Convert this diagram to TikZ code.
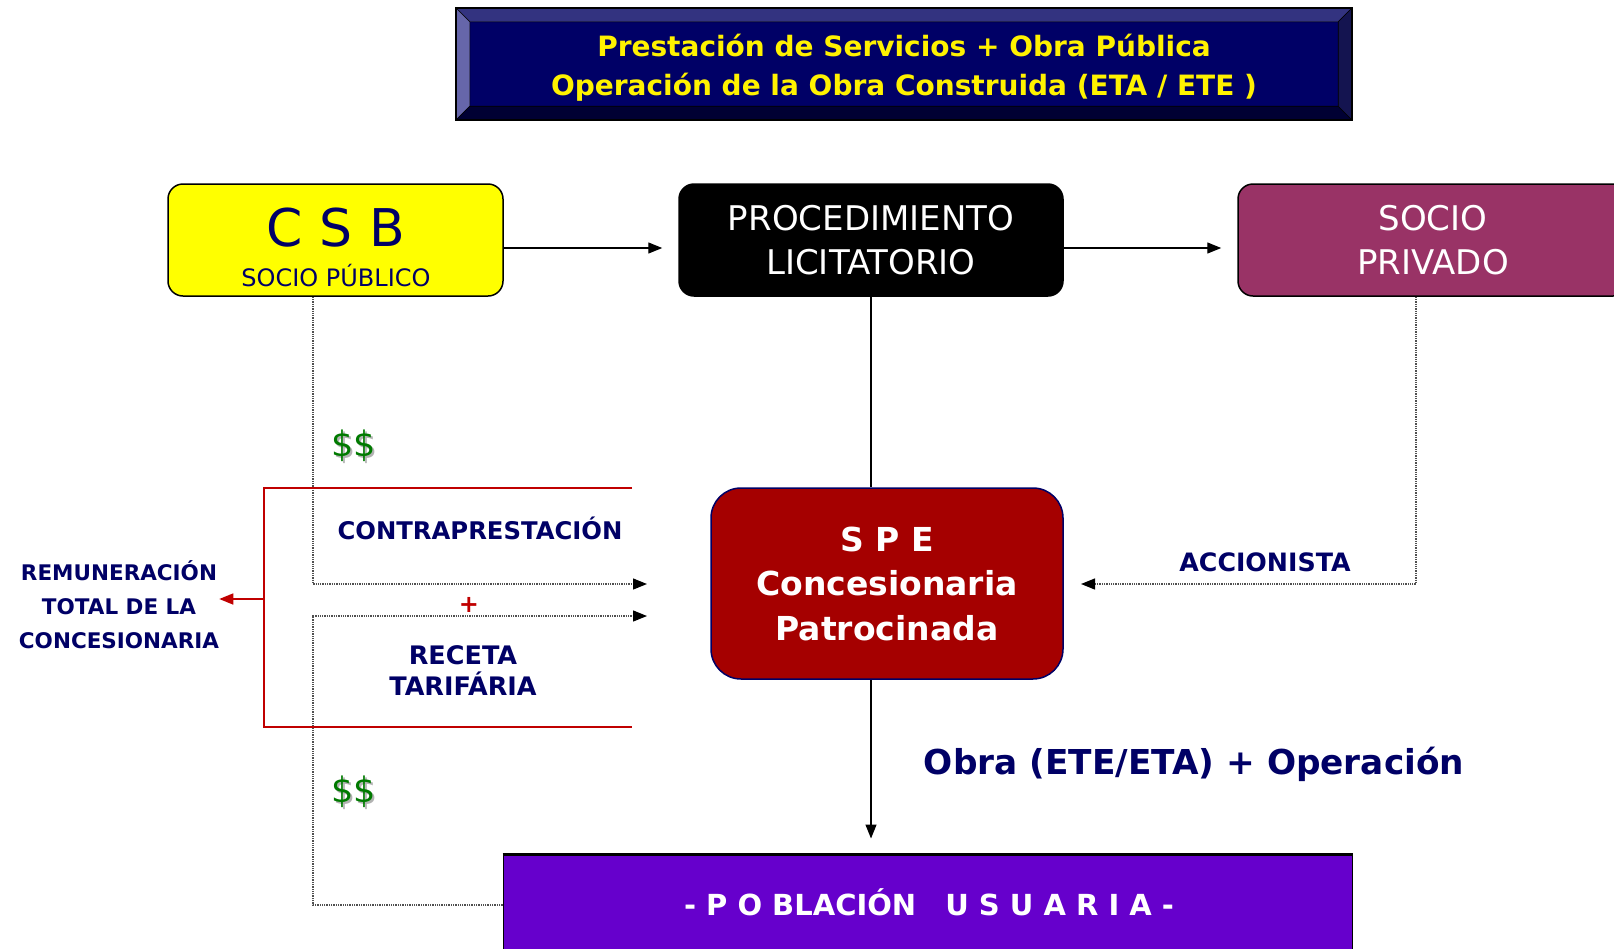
\documentclass[tikz,border=0pt]{standalone}
\usepackage{fontspec}
\setmainfont{DejaVu Sans}
\usetikzlibrary{arrows.meta,calc}
\definecolor{navy}{RGB}{0,0,102}
\definecolor{csbyellow}{RGB}{255,255,0}
\definecolor{sociocol}{RGB}{153,51,102}
\definecolor{spered}{RGB}{165,0,0}
\definecolor{pobcol}{RGB}{102,0,204}
\definecolor{redc}{RGB}{192,0,0}
\definecolor{dgreen}{RGB}{0,122,0}
\definecolor{ttlfill}{RGB}{0,0,102}
\definecolor{bvtop}{RGB}{51,51,128}
\definecolor{bvleft}{RGB}{102,102,170}
\definecolor{bvbottom}{RGB}{0,0,51}
\definecolor{bvright}{RGB}{20,20,80}
\definecolor{dotgray}{RGB}{80,80,80}
\begin{document}
\begin{tikzpicture}[x=1pt,y=-1pt,
  box/.style={draw=black, line width=1.5pt, rounded corners=15pt, inner sep=0pt, align=center},
  conn/.style={line width=1.3pt, -{Triangle[length=14pt,width=11pt]}},
  dotc/.style={densely dotted, line width=1.3pt, draw=dotgray, -{Triangle[length=14pt,width=11pt,color=black]}},
  redline/.style={line width=1.5pt, draw=redc},
  lbl/.style={text=navy, inner sep=0pt, align=center},
  bevel/.style={draw=black, line width=0.6pt}
]
\useasboundingbox (0,0) rectangle (1614,948);

% Title
\node[fill=ttlfill, minimum width=868pt, minimum height=84pt, inner sep=0pt] (titlebox) at (904,64) {};
\coordinate (tNW) at ($(titlebox.north west)+(-14,-14)$);
\coordinate (tNE) at ($(titlebox.north east)+(14,-14)$);
\coordinate (tSW) at ($(titlebox.south west)+(-14,14)$);
\coordinate (tSE) at ($(titlebox.south east)+(14,14)$);
\fill[bvtop, bevel] (titlebox.north west) -- (tNW) -- (tNE) -- (titlebox.north east) -- cycle;
\fill[bvleft, bevel] (titlebox.north west) -- (tNW) -- (tSW) -- (titlebox.south west) -- cycle;
\fill[bvbottom, bevel] (titlebox.south west) -- (tSW) -- (tSE) -- (titlebox.south east) -- cycle;
\fill[bvright, bevel] (titlebox.north east) -- (tNE) -- (tSE) -- (titlebox.south east) -- cycle;
\draw[line width=1.5pt] (tNW) rectangle (tSE);
\node[inner sep=0pt, align=center, text=yellow, font=\bfseries\fontsize{28}{39}\selectfont] (title) at (904,68)
  {Prestación de Servicios + Obra Pública\\Operación de la Obra Construida (ETA / ETE )};

% Top row
\node[box, fill=csbyellow, minimum width=335pt, minimum height=112pt] (csb) at (335.5,240) {};
\node[lbl, anchor=base, font=\fontsize{52}{52}\selectfont] (csbT) at (336,246) {C S B};
\node[lbl, anchor=base, font=\fontsize{24}{24}\selectfont] (csbS) at (336,286) {SOCIO PÚBLICO};

\node[box, fill=black, text=white, minimum width=384pt, minimum height=112pt,
      font=\fontsize{34}{44}\selectfont] (proc) at (871,240) {PROCEDIMIENTO\\LICITATORIO};
\node[box, fill=sociocol, text=white, minimum width=390pt, minimum height=112pt,
      font=\fontsize{34}{44}\selectfont] (socio) at (1433,240) {SOCIO\\PRIVADO};

% SPE
\node[box, draw=navy, fill=spered, rounded corners=30pt, minimum width=352pt, minimum height=191pt,
      text=white, font=\bfseries\fontsize{33}{44.5}\selectfont] (spe) at (887,583.5)
  {S P E\\Concesionaria\\Patrocinada};

% Poblacion
\node[fill=pobcol, draw=black, line width=1pt, minimum width=849pt, minimum height=100pt] (pob) at (927.5,905) {};
\node[inner sep=0pt, anchor=base, text=white, font=\bfseries\fontsize{29}{29}\selectfont] (pobT) at (929,915)
  {- P O BLACIÓN\quad U S U A R I A -};
\draw[line width=3.5pt] (pob.north west) -- (pob.north east);

% solid connectors
\draw[conn, shorten >=16pt] ([yshift=-8pt]csb.east) -- ([yshift=-8pt]proc.west);
\draw[conn, shorten >=16pt] ([yshift=-8pt]proc.east) -- ([yshift=-8pt]socio.west);
\draw[line width=1.3pt] (proc.south) -- (proc.south |- spe.north);
\draw[conn, shorten >=16pt] (proc.south |- spe.south) -- (proc.south |- pob.north);

% dotted connectors
\coordinate (dx) at (313,0);
\coordinate (e1) at (647,584);
\coordinate (e2) at (647,616);
\coordinate (ax) at (1416,0);
\coordinate (e3) at (1081,584);
\draw[dotc] (dx |- csb.south) |- (e1);
\draw[dotc] (pob.west) -| (dx |- e2) -- (e2);
\draw[dotc] (ax |- socio.south) |- (e3);

% red bracket
\draw[redline] (632,488) -- (264,488) -- (264,727) -- (632,727);

% labels
\node[lbl, font=\bfseries\fontsize{21.5}{34}\selectfont] (remun) at (119,604.5)
  {REMUNERACIÓN\\TOTAL DE LA\\CONCESIONARIA};
\draw[redline, -{Triangle[length=14pt,width=11pt]}] (264,599) -- (remun.east |- 0,599);

\node[lbl, anchor=base, font=\bfseries\fontsize{24.3}{24.3}\selectfont] (contra) at (480,539) {CONTRAPRESTACIÓN};
\node[lbl, font=\bfseries\fontsize{25.5}{31}\selectfont] (receta) at (463,671) {RECETA\\TARIFÁRIA};
\node[text=redc, inner sep=0pt, font=\bfseries\fontsize{24}{24}\selectfont] (plus) at (469,605) {+};
\node[lbl, anchor=base, font=\bfseries\fontsize{25.3}{25}\selectfont] (accion) at (1265,571) {ACCIONISTA};
\node[lbl, anchor=base, font=\bfseries\fontsize{34.3}{34}\selectfont] (obra) at (1194,774) {Obra (ETE/ETA) + Operación};

\node[text=gray!60, inner sep=0pt, font=\fontsize{35}{35}\selectfont] at (356,448) {\$\$};
\node[text=dgreen, inner sep=0pt, font=\fontsize{35}{35}\selectfont] (d1) at (354,446) {\$\$};
\node[text=gray!60, inner sep=0pt, font=\fontsize{35}{35}\selectfont] at (356,794) {\$\$};
\node[text=dgreen, inner sep=0pt, font=\fontsize{35}{35}\selectfont] (d2) at (354,792) {\$\$};
\end{tikzpicture}
\end{document}
